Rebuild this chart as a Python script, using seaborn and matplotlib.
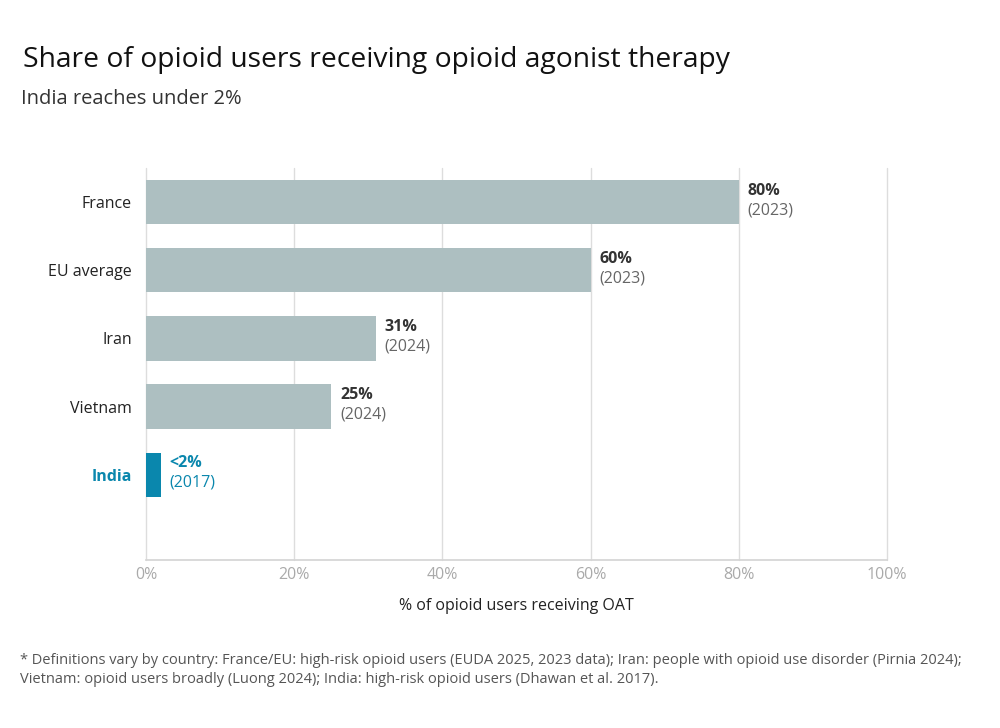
import matplotlib
matplotlib.use("Agg")
import matplotlib.pyplot as plt
import seaborn as sns
import pandas as pd

countries = ["France", "EU average", "Iran", "Vietnam", "India"]
shares = [80, 60, 31, 25, 2]
value_labels = ["80%", "60%", "31%", "25%", "<2%"]
years = ["(2023)", "(2023)", "(2024)", "(2024)", "(2017)"]
ticks = [0, 20, 40, 60, 80, 100]
tick_labels = ["0%", "20%", "40%", "60%", "80%", "100%"]

grey_bar = "#adbfc1"
india_blue = "#0a87ad"
dark = "#333333"

sns.set_theme(style="white")
plt.rcParams["font.family"] = ["Open Sans", "DejaVu Sans"]

df = pd.DataFrame({"country": countries, "share": shares})
palette = {c: (india_blue if c == "India" else grey_bar) for c in countries}

fig = plt.figure(figsize=(10, 7.28), dpi=100)
ax = fig.add_axes([0.146, 1 - 560 / 728, 0.741, (560 - 168) / 728])

sns.barplot(data=df, y="country", x="share", hue="country", palette=palette,
            order=countries, width=0.65, saturation=1, legend=False,
            edgecolor="none", ax=ax)

ax.set_xlim(0, 100)
ax.set_ylim(5.25, -0.5)
ax.set_xticks(ticks)
ax.set_xticklabels(tick_labels)
ax.grid(True, axis="x", color="#dddddd", linewidth=1)
for gl in ax.get_xgridlines():
    gl.set_clip_on(False)
ax.set_axisbelow(True)
for s in ["top", "right", "left"]:
    ax.spines[s].set_visible(False)
ax.spines["bottom"].set_color("#d5d5d5")
ax.tick_params(axis="x", length=0, pad=5, labelsize=11.5, labelcolor="#aaaaaa")
ax.tick_params(axis="y", length=0, pad=10, labelsize=11.5, labelcolor="#222222")
ax.set_ylabel("")
ax.set_xlabel("% of opioid users receiving OAT", fontsize=11.5, color="#222222", labelpad=11)

for lbl in ax.get_yticklabels():
    if lbl.get_text() == "India":
        lbl.set_color(india_blue)
        lbl.set_fontweight("bold")

for i, (v, vl, yr) in enumerate(zip(shares, value_labels, years)):
    c1 = india_blue if countries[i] == "India" else dark
    c2 = india_blue if countries[i] == "India" else "#666666"
    ax.text(v + 1.2, i - 0.05, vl, ha="left", va="bottom", fontsize=11.5,
            fontweight="bold", color=c1)
    ax.text(v + 1.2, i + 0.0, yr, ha="left", va="top", fontsize=11.5, color=c2)

fig.text(0.023, 1 - 60 / 728, "Share of opioid users receiving opioid agonist therapy",
         fontsize=20.3, color="#111111", va="center", ha="left")
fig.text(0.021, 1 - 99 / 728, "India reaches under 2%", fontsize=14.5,
         color="#333333", va="center", ha="left")
fig.text(0.02, 1 - 670 / 728,
         "* Definitions vary by country: France/EU: high-risk opioid users (EUDA 2025, 2023 data); "
         "Iran: people with opioid use disorder (Pirnia 2024);\n"
         "Vietnam: opioid users broadly (Luong 2024); India: high-risk opioid users (Dhawan et al. 2017).",
         fontsize=10.5, color="#555555", va="center", ha="left", linespacing=1.4)

fig.savefig("out.png", dpi=100)
